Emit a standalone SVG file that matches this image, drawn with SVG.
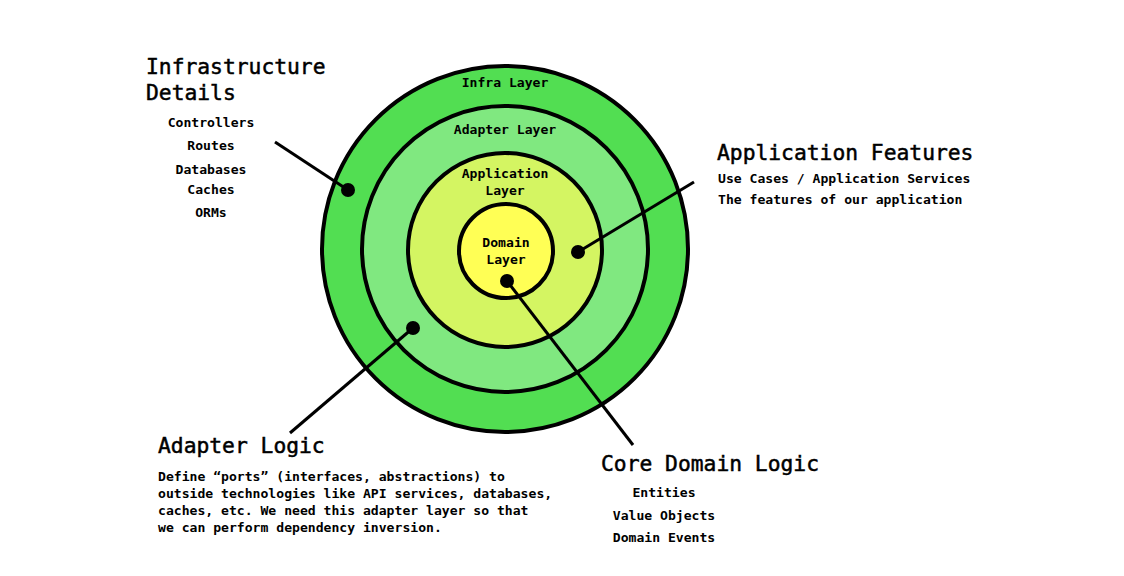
<svg xmlns="http://www.w3.org/2000/svg" width="1124" height="576" viewBox="0 0 1124 576">
<style>
.ring{stroke:#000;stroke-width:4}
.lbl{font-family:"DejaVu Sans Mono","Liberation Mono",monospace;font-size:13.1px;font-weight:bold;fill:#000}
.ctr{text-anchor:middle}
.hd{font-family:"DejaVu Sans Mono","Liberation Mono",monospace;font-size:21.3px;fill:#000;stroke:#000;stroke-width:0.5}
.conn line{stroke:#000;stroke-width:3}
.conn circle{fill:#000}
</style>
<rect width="1124" height="576" fill="#fff"/>
<g id="infra-layer"><circle class="ring" cx="505" cy="249" r="183" fill="#52de52"/><text class="lbl ctr" x="505" y="87">Infra Layer</text></g>
<g id="adapter-layer"><circle class="ring" cx="505" cy="249" r="143" fill="#80e880"/><text class="lbl ctr" x="505" y="134">Adapter Layer</text></g>
<g id="application-layer"><circle class="ring" cx="505" cy="250" r="97" fill="#d4f562"/><text class="lbl ctr" x="505" y="178">Application</text><text class="lbl ctr" x="505" y="195">Layer</text></g>
<g id="domain-layer"><circle class="ring" cx="506" cy="251" r="47" fill="#ffff55"/><text class="lbl ctr" x="506" y="247">Domain</text><text class="lbl ctr" x="506" y="264">Layer</text></g>
<g id="connectors" class="conn">
<line x1="275" y1="142" x2="348" y2="190"/><circle cx="348" cy="190" r="7"/>
<line x1="694" y1="182" x2="578" y2="252"/><circle cx="578" cy="252" r="7"/>
<line x1="290" y1="433" x2="413" y2="328"/><circle cx="413" cy="328" r="7"/>
<line x1="633" y1="445" x2="507" y2="281"/><circle cx="507" cy="281" r="7"/>
</g>
<g id="infrastructure-details">
<text class="hd" x="146" y="74">Infrastructure</text>
<text class="hd" x="146" y="100">Details</text>
<text class="lbl ctr" x="211" y="127">Controllers</text>
<text class="lbl ctr" x="211" y="150">Routes</text>
<text class="lbl ctr" x="211" y="174">Databases</text>
<text class="lbl ctr" x="211" y="194">Caches</text>
<text class="lbl ctr" x="211" y="217">ORMs</text>
</g>
<g id="application-features">
<text class="hd" x="717" y="160">Application Features</text>
<text class="lbl" x="718" y="183">Use Cases / Application Services</text>
<text class="lbl" x="718" y="204">The features of our application</text>
</g>
<g id="adapter-logic">
<text class="hd" x="158" y="453">Adapter Logic</text>
<text class="lbl" x="158" y="481">Define “ports” (interfaces, abstractions) to</text>
<text class="lbl" x="158" y="498">outside technologies like API services, databases,</text>
<text class="lbl" x="158" y="515">caches, etc. We need this adapter layer so that</text>
<text class="lbl" x="158" y="532">we can perform dependency inversion.</text>
</g>
<g id="core-domain-logic">
<text class="hd" x="601" y="471">Core Domain Logic</text>
<text class="lbl ctr" x="664" y="497">Entities</text>
<text class="lbl ctr" x="664" y="520">Value Objects</text>
<text class="lbl ctr" x="664" y="542">Domain Events</text>
</g>
</svg>
